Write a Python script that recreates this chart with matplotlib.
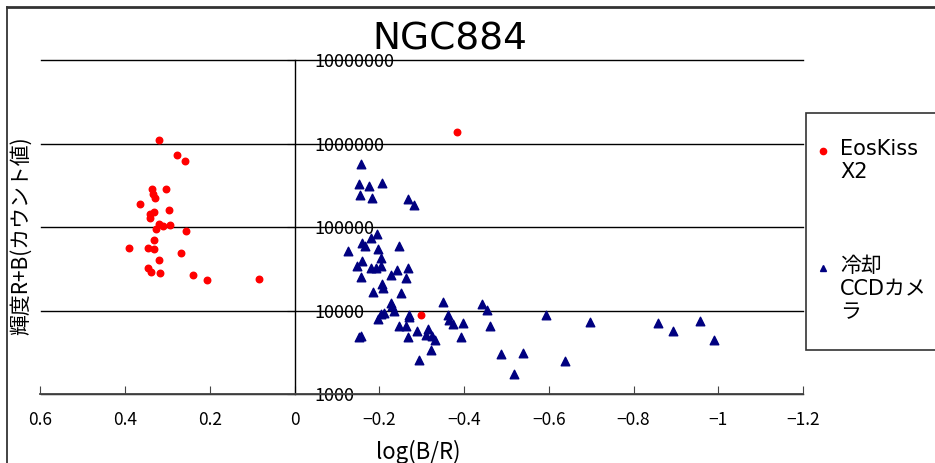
import numpy as np
import matplotlib
matplotlib.use("Agg")
import matplotlib.pyplot as plt
from matplotlib.ticker import FixedLocator, FuncFormatter, NullLocator
from matplotlib.patches import Rectangle
from matplotlib.lines import Line2D

plt.rcParams['font.family'] = ['DejaVu Sans', 'Noto Sans CJK JP']

title = "NGC884"
x_label = "log(B/R)"
y_label = "輝度R+B(カウント値)"
series_names = ["EosKiss\nX2", "冷却\nCCDカメ\nラ"]

# EosKiss X2 : log(B/R), counts
eos_x = [0.321, 0.277, 0.260, 0.336, 0.304, 0.334, 0.329, 0.364, 0.297, 0.341,
         0.333, 0.341, 0.321, 0.311, 0.295, 0.328, 0.257, 0.333, 0.390, 0.347,
         0.331, 0.269, 0.321, 0.347, 0.339, 0.318, 0.239, 0.207, 0.084, -0.383,
         -0.299]
eos_y = [1.12e6, 7.3e5, 6.2e5, 2.85e5, 2.9e5, 2.53e5, 2.27e5, 1.88e5, 1.63e5, 1.46e5,
         1.51e5, 1.29e5, 1.11e5, 1.03e5, 1.06e5, 9.5e4, 9.0e4, 7.0e4, 5.6e4, 5.7e4,
         5.5e4, 4.9e4, 4.1e4, 3.3e4, 2.95e4, 2.8e4, 2.7e4, 2.34e4, 2.4e4, 1.37e6,
         8.8e3]

# cooled CCD camera
ccd_x = [-0.157, -0.152, -0.175, -0.207, -0.154, -0.183, -0.268, -0.281, -0.194, -0.181,
         -0.160, -0.165, -0.196, -0.126, -0.247, -0.203, -0.160, -0.147, -0.181, -0.192,
         -0.204, -0.242, -0.268, -0.227, -0.157, -0.262, -0.207, -0.208, -0.185, -0.250,
         -0.228, -0.230, -0.350, -0.443, -0.454, -0.234, -0.210, -0.204, -0.196, -0.271,
         -0.271, -0.361, -0.364, -0.374, -0.397, -0.247, -0.263, -0.289, -0.315, -0.309,
         -0.325, -0.332, -0.268, -0.393, -0.152, -0.157, -0.322, -0.294, -0.487, -0.539,
         -0.518, -0.593, -0.698, -0.858, -0.892, -0.958, -0.990, -0.461, -0.637]
ccd_y = [5.68e5, 3.34e5, 3.10e5, 3.43e5, 2.47e5, 2.27e5, 2.21e5, 1.87e5, 8.2e4, 7.5e4,
         6.4e4, 5.9e4, 5.5e4, 5.2e4, 5.9e4, 4.25e4, 3.95e4, 3.48e4, 3.29e4, 3.23e4,
         3.48e4, 3.08e4, 3.23e4, 2.71e4, 2.52e4, 2.50e4, 2.08e4, 1.86e4, 1.67e4, 1.62e4,
         1.24e4, 1.14e4, 1.27e4, 1.20e4, 1.02e4, 9.95e3, 9.4e3, 9.1e3, 7.9e3, 8.8e3,
         8.4e3, 8.8e3, 7.7e3, 7.0e3, 7.1e3, 6.5e3, 6.5e3, 5.8e3, 6.0e3, 5.2e3,
         5.0e3, 4.5e3, 4.9e3, 4.9e3, 4.9e3, 5.0e3, 3.43e3, 2.6e3, 3.0e3, 3.13e3,
         1.77e3, 8.8e3, 7.3e3, 7.1e3, 5.7e3, 7.6e3, 4.5e3, 6.5e3, 2.5e3]

x_ticks = [0.6, 0.4, 0.2, 0, -0.2, -0.4, -0.6, -0.8, -1, -1.2]
y_ticks = [1e3, 1e4, 1e5, 1e6, 1e7]

W, H = 935, 463
fig = plt.figure(figsize=(W / 100, H / 100), dpi=100)
ax = fig.add_axes([40.5 / W, 1 - 394.3 / H, 762.5 / W, 334 / H])

ax.scatter(eos_x, eos_y, s=22, color='#ff0000', marker='o', zorder=3, clip_on=False)
ax.scatter(ccd_x, ccd_y, s=38, color='#000080', marker='^', zorder=3, clip_on=False)

ax.set_yscale('log')
ax.set_xlim(0.6, -1.2)
ax.set_ylim(1e3, 1e7)

# y axis crosses at x = 0, labels on its right side
ax.spines['top'].set_visible(False)
ax.spines['left'].set_visible(False)
ax.spines['right'].set_position(('data', 0))
ax.spines['right'].set_linewidth(1)
ax.spines['bottom'].set_color('#444444')
ax.spines['bottom'].set_linewidth(1.3)
ax.yaxis.set_ticks_position('right')
ax.yaxis.set_major_locator(FixedLocator(y_ticks))
ax.yaxis.set_minor_locator(NullLocator())
ax.yaxis.set_major_formatter(FuncFormatter(lambda v, p: f"{int(round(v))}"))
ax.tick_params(axis='y', direction='in', length=6, pad=14, labelsize=13,
               labelfontfamily='Noto Sans CJK JP')

ax.xaxis.set_major_locator(FixedLocator(x_ticks))
ax.xaxis.set_major_formatter(FuncFormatter(lambda v, p: f"{v:g}".replace('-', '\u2212')))
ax.tick_params(axis='x', direction='in', length=6, pad=12, labelsize=12.5,
               color='#444444', labelfontfamily='Noto Sans CJK JP')

ax.grid(axis='y', color='black', linewidth=1)
for g in ax.get_ygridlines():
    g.set_clip_on(False)
ax.set_axisbelow(True)

fig.text(450 / W, 1 - 39 / H, title, fontsize=27, ha='center', va='center')
fig.text(418 / W, 1 - 452 / H, x_label, fontsize=16, ha='center', va='center',
         family='Noto Sans CJK JP')
fig.text(21 / W, 1 - 236 / H, y_label, fontsize=15, rotation=90, ha='center', va='center',
         family='Noto Sans CJK JP')

# outer chart border
fig.add_artist(Line2D([7 / W, 7 / W], [0, 1 - 7 / H], color='#222222', lw=1.2))
fig.add_artist(Line2D([7 / W, 1], [1 - 7 / H, 1 - 7 / H], color='#333333', lw=2))

# legend box
fig.add_artist(Rectangle((806 / W, 1 - 350 / H), 150 / W, 237 / H, facecolor='white',
                         edgecolor='#333333', lw=1.2, transform=fig.transFigure))
fig.add_artist(Line2D([823 / W], [1 - 151 / H], marker='o', color='#ff0000',
                      markersize=4.5, linestyle='none'))
fig.add_artist(Line2D([823 / W], [1 - 268 / H], marker='^', color='#000080',
                      markersize=5, linestyle='none'))
fig.text(840 / W, 1 - 139 / H, series_names[0], fontsize=15, ha='left', va='top',
         linespacing=1.2)
fig.text(840 / W, 1 - 256 / H, series_names[1], fontsize=15, ha='left', va='top',
         linespacing=1.2)

fig.savefig("out.png", dpi=100)
